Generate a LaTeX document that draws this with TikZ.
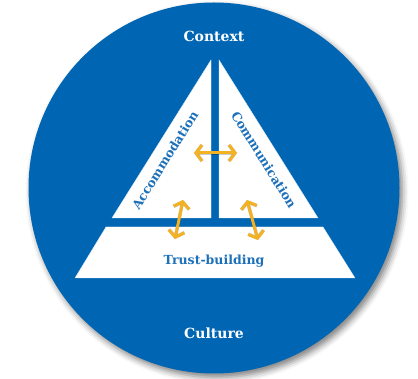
\documentclass[tikz,border=0pt]{standalone}
\usepackage{fontspec}
\setmainfont{DejaVu Serif}
\usetikzlibrary{arrows.meta,shadows.blur}
\definecolor{cblue}{RGB}{0,102,179}
\definecolor{tblue}{RGB}{28,112,185}
\definecolor{corange}{RGB}{242,178,36}
\tikzset{
  piece/.style={fill=white,draw=white!85!cblue,line width=0.4pt},
  lbl/.style={font=\bfseries\fontsize{#1}{#1}\selectfont,inner sep=0pt},
  twoway/.style={draw=corange,line width=3pt,line join=round,
    {Straight Barb[length=6pt,width=16pt,line width=3pt]}-{Straight Barb[length=6pt,width=16pt,line width=3pt]}},
  twowayshadow/.style={draw=black,opacity=0.2,line width=3.5pt,
    {Straight Barb[length=6pt,width=16pt,line width=3.5pt]}-{Straight Barb[length=6pt,width=16pt,line width=3.5pt]}}
}
\begin{document}
\begin{tikzpicture}[x=1pt,y=-1pt]
\useasboundingbox (0,0) rectangle (418,379);
% disc
\node[circle,minimum size=371pt,inner sep=0pt,fill=cblue,
  blur shadow={shadow xshift=3pt,shadow yshift=-4pt,shadow blur radius=6pt,shadow opacity=50}]
  (disc) at (214,188) {};
% pieces
\path[piece] (112,218) -- (211,60) -- (211,218) -- cycle;
\path[piece] (219,218) -- (219,60) -- (318,218) -- cycle;
\path[piece] (106,227) -- (323,227) -- (355,278) -- (75,278) -- cycle;
% labels
\node[lbl=14,text=white] (context) at (214,36) {Context};
\node[lbl=14,text=white] (culture) at (214,333) {Culture};
\node[lbl=12.5,text=tblue] (trust) at (214,261) {Trust-building};
\node[lbl=12.5,text=tblue,rotate=58] (accom) at (165,160) {Accommodation};
\node[lbl=12.5,text=tblue,rotate=-58] (comm) at (264,160) {Communication};
% arrow anchors
\coordinate (h1) at (194,153);
\coordinate (h2) at (237,153);
\coordinate (l1) at (183,200);
\coordinate (l2) at (175,239);
\coordinate (r1) at (247,200);
\coordinate (r2) at (258,240);
% shadows of arrows
\begin{scope}[xshift=3pt,yshift=-3pt]
\draw[twowayshadow] (h1) -- (h2);
\draw[twowayshadow] (l1) -- (l2);
\draw[twowayshadow] (r1) -- (r2);
\end{scope}
\draw[twoway] (h1) -- (h2);
\draw[twoway] (l1) -- (l2);
\draw[twoway] (r1) -- (r2);
\end{tikzpicture}
\end{document}
